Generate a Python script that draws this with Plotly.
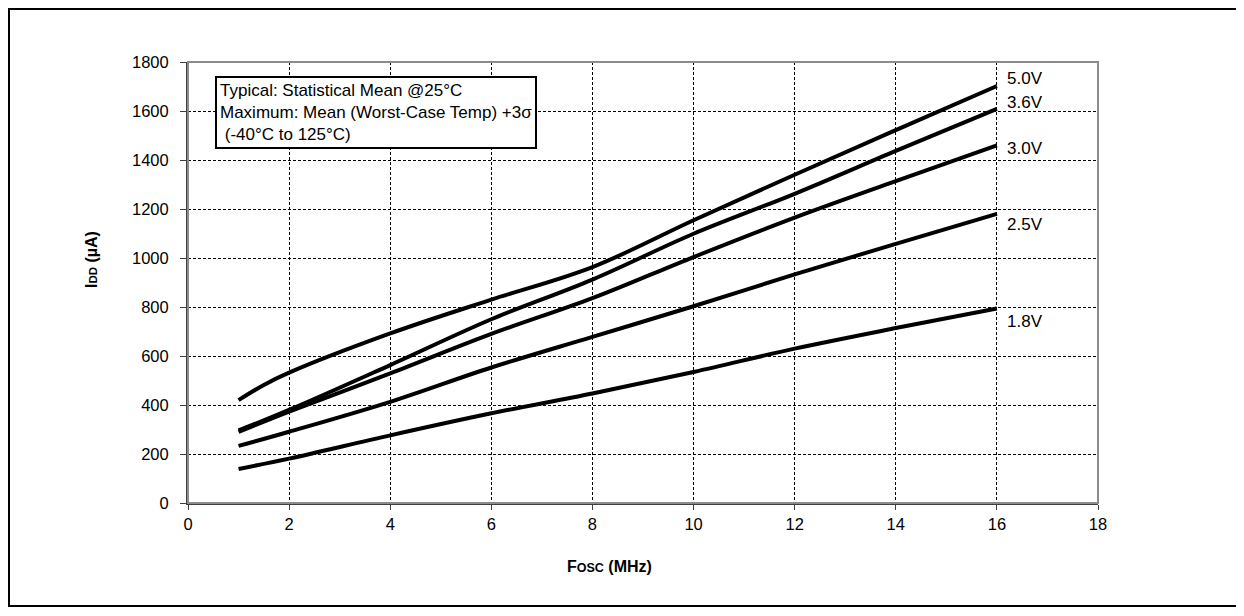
import plotly.graph_objects as go

# Fosc (MHz) sample points
fosc = [1, 2, 4, 6, 8, 10, 12, 14, 16]
fosc_50 = [1, 1.5, 2, 4, 6, 8, 10, 12, 14, 16]

# IDD (uA), one list per VDD
idd_50 = [420, 482, 532, 692, 830, 963, 1154, 1340, 1522, 1702]
idd_36 = [296, 380, 563, 750, 912, 1099, 1262, 1437, 1609]
idd_30 = [290, 373, 529, 690, 836, 1004, 1165, 1314, 1460]
idd_25 = [233, 291, 413, 553, 678, 803, 933, 1058, 1180]
idd_18 = [139, 181, 276, 366, 447, 535, 630, 714, 794]

series = [("5.0V", fosc_50, idd_50, 1731), ("3.6V", fosc, idd_36, 1633),
          ("3.0V", fosc, idd_30, 1449), ("2.5V", fosc, idd_25, 1135),
          ("1.8V", fosc, idd_18, 739)]

font = "Arial, 'Liberation Sans', sans-serif"

fig = go.Figure()

for name, xs, vals, label_y in series:
    fig.add_trace(go.Scatter(x=xs, y=vals, mode="lines", name=name,
                             line=dict(color="black", width=4, shape="spline", smoothing=1.0),
                             showlegend=False))
    fig.add_annotation(x=16, y=label_y, text=name, showarrow=False,
                       xanchor="left", yanchor="middle", xshift=8,
                       font=dict(size=17, color="black"))

# text box
fig.add_annotation(xref="paper", yref="paper", x=0.0297, y=0.968,
                   xanchor="left", yanchor="top", align="left", showarrow=False,
                   text="Typical: Statistical Mean @25°C<br>Maximum: Mean (Worst-Case Temp) +3σ<br> (-40°C to 125°C)",
                   font=dict(size=17, color="black"),
                   bordercolor="black", borderwidth=2, borderpad=3, bgcolor="white")

# axis titles
fig.add_annotation(xref="paper", yref="paper", x=(609 - 188) / 910, y=-(566 - 503) / 441,
                   xanchor="center", yanchor="middle",
                   text="<b>F<span style='font-size:12.5px'>OSC</span> (MHz)</b>", showarrow=False,
                   font=dict(size=16, color="black"))
fig.add_annotation(xref="paper", yref="paper", x=-(188 - 91) / 910, y=(503 - 260) / 441,
                   xanchor="center", yanchor="middle",
                   text="<b>I<span style='font-size:11.5px'>DD</span> (µA)</b>", showarrow=False,
                   textangle=-90, font=dict(size=16, color="black"))

# plot frame (top/right lighter)
fig.add_shape(type="rect", xref="paper", yref="paper", x0=0, y0=0, x1=1, y1=1,
              line=dict(color="#8c8c8c", width=2), layer="above")
# outer page border
fig.add_shape(type="rect", xref="paper", yref="paper",
              x0=-179 / 910, x1=1 + 140 / 910,
              y0=-103 / 441, y1=1 + 53 / 441,
              line=dict(color="black", width=2))

fig.update_xaxes(range=[0, 18], dtick=2, showgrid=True, gridcolor="black", gridwidth=1,
                 griddash="3px,2px", showline=True, linecolor="#404040", linewidth=2,
                 ticks="outside", ticklen=5, tickcolor="#404040", zeroline=False,
                 tickfont=dict(size=16.5, color="black"), layer="below traces")
fig.update_yaxes(range=[0, 1800], dtick=200, showgrid=True, gridcolor="black", gridwidth=1,
                 griddash="3px,2px", showline=True, linecolor="#404040", linewidth=2,
                 ticks="outside", ticklen=6, tickcolor="#404040", zeroline=False,
                 tickfont=dict(size=16.5, color="black"), ticklabelstandoff=8)

# the page puts the figure 8px in from the top-left corner
fig.update_layout(width=1236, height=608, margin=dict(l=180, r=146, t=54, b=113),
                  plot_bgcolor="white", paper_bgcolor="white",
                  font=dict(family=font, color="black"))

fig.write_html("out.html")
